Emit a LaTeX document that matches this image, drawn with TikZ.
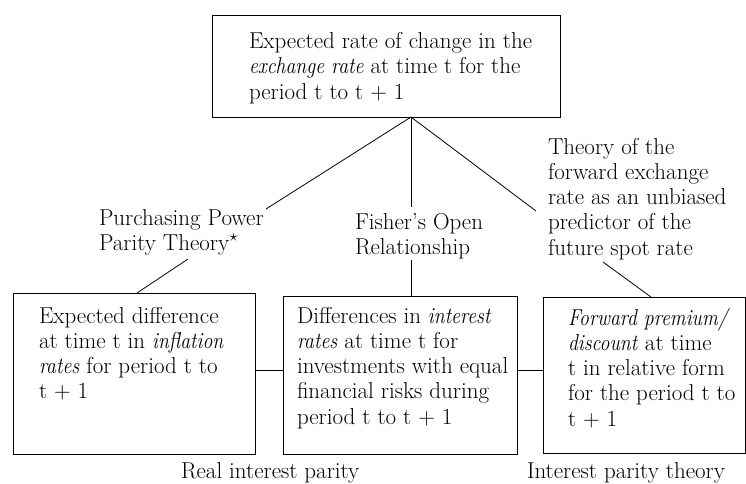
\documentclass[tikz,border=0pt]{standalone}
\usepackage{fontspec}
\usepackage{graphicx}
\newcommand{\itn}[1]{\scalebox{0.86}[1]{\textit{#1}}}
\begin{document}
\begin{tikzpicture}[x=1pt,y=-1pt,
  every node/.style={inner sep=0pt, outer sep=0pt},
  box/.style={draw, line width=0.9pt, rectangle},
  txt/.style={anchor=base west, align=left, font=\fontsize{23}{25.3}\selectfont},
  conn/.style={line width=0.8pt}]
\useasboundingbox (0,0) rectangle (746,483);
% boxes
\node[box, minimum width=348pt, minimum height=102pt] (top) at (386,66) {};
\node[box, minimum width=242pt, minimum height=161pt] (left) at (134,373.5) {};
\node[box, minimum width=234pt, minimum height=158pt] (mid) at (400,375) {};
\node[box, minimum width=202pt, minimum height=156pt] (right) at (644,375) {};
% texts (anchored at the baseline of their last line)
\node[txt] (toptext) at (249,99) {Expected rate of change in the\\\itn{exchange rate} at time t for the\\period t to t + 1};
\node[txt] (lefttext) at (39,398.9) {Expected difference\\at time t in \itn{inflation}\\\itn{rates} for period t to\\t + 1};
\node[txt] (midtext) at (297,424.2) {Differences in \itn{interest}\\\itn{rates} at time t for\\investments with equal\\financial risks during\\period t to t + 1};
\node[txt] (righttext) at (568,426.2) {\itn{Forward premium/}\\\itn{discount} at time\\t in relative form\\for the period t to\\t + 1};
\node[txt] (ppp) at (99,250.3) {Purchasing Power\\Parity Theory$^\star$};
\node[txt] (fisher) at (355,254.3) {Fisher's Open\\Relationship};
\node[txt] (fwd) at (548,255.2) {Theory of the\\forward exchange\\rate as an unbiased\\predictor of the\\future spot rate};
\node[txt] (rip) at (181,478) {Real interest parity};
\node[txt] (ipt) at (527,478) {Interest parity theory};
% connector points
\coordinate (apex) at (411,117);
\coordinate (pppTop) at (266,209);
\coordinate (fisherTop) at (411,207);
\coordinate (fwdTop) at (536,211);
\coordinate (pppBot) at (188,259);
\coordinate (fisherBot) at (411,260);
\coordinate (fwdBot) at (603,262);
\coordinate (hy) at (0,370);
% connectors
\draw[conn] (apex) -- (pppTop);
\draw[conn] (apex) -- (fisherTop);
\draw[conn] (apex) -- (fwdTop);
\draw[conn] (pppBot) -- (left.north -| 137,0);
\draw[conn] (fisherBot) -- (mid.north -| fisherBot);
\draw[conn] (fwdBot) -- (right.north -| 651,0);
\draw[conn] (left.east |- hy) -- (mid.west |- hy);
\draw[conn] (mid.east |- hy) -- (right.west |- hy);
\end{tikzpicture}
\end{document}
